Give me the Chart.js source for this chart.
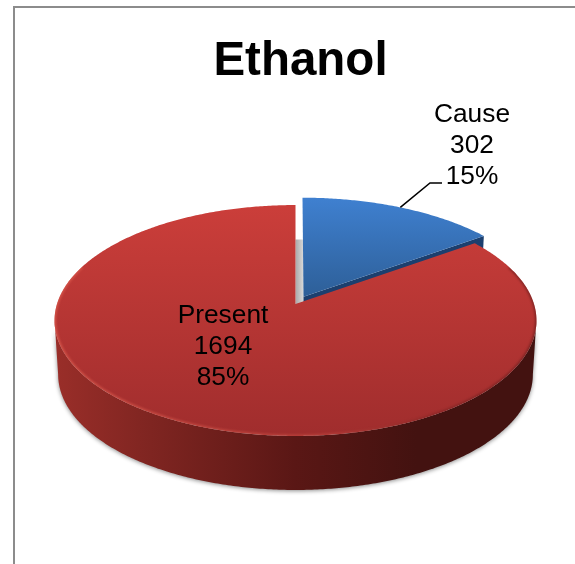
<!DOCTYPE html>
<html>
<head>
<meta charset="utf-8">
<style>
    html, body { margin: 0; padding: 0; background: #fff; }
    #frame { position: absolute; left: 13px; top: 6px; right: 0; bottom: 0; border-top: 2px solid #8c8c8c; border-left: 2px solid #8c8c8c; }
    #chart { position: absolute; left: 0; top: 0; }
</style>
</head>
<body>
<div id="frame"></div>
<canvas id="chart" width="575" height="564"></canvas>
<script src="https://cdn.jsdelivr.net/npm/chart.js@4"></script>
<script>
// Data
const categories = ["Cause", "Present"];
const counts = [302, 1694];
const percents = ["15%", "85%"];

// Look of the 3D pie
const CX = 295.5, CY = 304;     // where the untilted centre lands
const RX = 238.5, RY = 113.1;   // projected radius
const PERSP = 1 / 7;            // front of the disc is nearer
const DEPTH = 54;
const BOTTOM_SCALE = 0.985;
const EXPLODE = 0.074;
const EXPLODED_RADIUS = 1.02;
const LABEL_FONT = '26.3px "Liberation Sans"';
const LABEL_LINE = 31;
const labelCentres = [[472, 114.5], [223, 315.5]];

// unit disc -> screen
function project(u, v) {
    const w = 1 - PERSP * v;
    return [CX + RX * u / w, CY + RY * v / w];
}

function rimPoints(start, end, du, dv, r) {
    const pts = [];
    const steps = Math.ceil(Math.abs(end - start) / 0.01);
    for (let i = 0; i <= steps; i++) {
        const a = start + (end - start) * i / steps;
        pts.push(project(r * Math.cos(a) + du, r * Math.sin(a) + dv));
    }
    return pts;
}

function lower(p) {
    return [CX + (p[0] - CX) * BOTTOM_SCALE, p[1] + DEPTH];
}

function tracePoly(ctx, pts) {
    ctx.beginPath();
    pts.forEach((p, i) => (i ? ctx.lineTo(p[0], p[1]) : ctx.moveTo(p[0], p[1])));
}

function fillPoly(ctx, pts, style) {
    tracePoly(ctx, pts);
    ctx.closePath();
    ctx.fillStyle = style;
    ctx.fill();
}

function vGradient(ctx, y0, y1, c0, c1) {
    const g = ctx.createLinearGradient(0, y0, 0, y1);
    g.addColorStop(0, c0);
    g.addColorStop(1, c1);
    return g;
}

const pie3d = {
    id: "pie3d",
    beforeDatasetsDraw(chart) {
        const ctx = chart.ctx;
        const arcs = chart.getDatasetMeta(0).data;
        const blue = arcs[0], red = arcs[1];
        const mid = (blue.startAngle + blue.endAngle) / 2;
        const du = Math.cos(mid) * EXPLODE, dv = Math.sin(mid) * EXPLODE;

        ctx.save();

        // grey inner face seen through the gap
        const gapTop = -0.62;
        const gapShape = [project(0, gapTop), project(du, gapTop), project(du, 0), project(0, 0)];
        const gapGrad = ctx.createLinearGradient(gapShape[0][0], 0, gapShape[1][0], 0);
        gapGrad.addColorStop(0, "#a9a9a9");
        gapGrad.addColorStop(1, "#d6d6d6");
        fillPoly(ctx, gapShape, gapGrad);

        // blue slice, cut face then top
        const bApex = project(du, dv);
        const bRim = rimPoints(blue.startAngle, blue.endAngle, du, dv, EXPLODED_RADIUS);
        const bCorner = bRim[bRim.length - 1];
        fillPoly(ctx, [bApex, bCorner, lower(bCorner), lower(bApex)], "#1c3f6e");
        fillPoly(ctx, [bApex].concat(bRim), vGradient(ctx, 198, 300, "#3f80d0", "#2d5e96"));

        // red slice, only the front of the wall shows
        const rApex = project(0, 0);
        const rRim = rimPoints(red.startAngle, red.endAngle, 0, 0, 1);
        const side = Math.asin(PERSP);
        const front = rimPoints(side, Math.PI - side, 0, 0, 1);
        const wall = front.concat(front.slice().reverse().map(lower));
        const wallGrad = ctx.createLinearGradient(54, 0, 537, 0);
        wallGrad.addColorStop(0, "#9a2e29");
        wallGrad.addColorStop(0.2, "#7f2521");
        wallGrad.addColorStop(0.5, "#5a1715");
        wallGrad.addColorStop(0.75, "#431210");
        wallGrad.addColorStop(1, "#431210");
        ctx.save();
        ctx.shadowColor = "rgba(0,0,0,0.45)";
        ctx.shadowBlur = 4;
        ctx.shadowOffsetY = 1;
        fillPoly(ctx, wall, wallGrad);
        ctx.restore();

        // red top
        const top = [rApex].concat(rRim);
        fillPoly(ctx, top, vGradient(ctx, 205, 436, "#cb3e3a", "#a02d2d"));

        // soft bevel along the rim, kept inside the top
        const rimGrad = ctx.createLinearGradient(54, 0, 537, 0);
        rimGrad.addColorStop(0, "rgba(226,96,82,0.7)");
        rimGrad.addColorStop(0.55, "rgba(205,80,70,0.5)");
        rimGrad.addColorStop(0.8, "rgba(110,30,30,0.5)");
        rimGrad.addColorStop(1, "rgba(90,25,25,0.6)");
        ctx.save();
        tracePoly(ctx, top);
        ctx.closePath();
        ctx.clip();
        ctx.filter = "blur(1px)";
        tracePoly(ctx, rimPoints(-0.35, Math.PI + 0.35, 0, 0, 1));
        ctx.strokeStyle = rimGrad;
        ctx.lineWidth = 3;
        ctx.stroke();
        ctx.restore();

        // leader line for the small slice
        const start = project(EXPLODED_RADIUS * Math.cos(mid) + du, EXPLODED_RADIUS * Math.sin(mid) + dv);
        ctx.beginPath();
        ctx.moveTo(start[0], start[1]);
        ctx.lineTo(430, 183);
        ctx.lineTo(442, 183);
        ctx.strokeStyle = "#000";
        ctx.lineWidth = 1.5;
        ctx.stroke();

        // labels
        ctx.fillStyle = "#000";
        ctx.font = LABEL_FONT;
        ctx.textAlign = "center";
        ctx.textBaseline = "middle";
        categories.forEach((name, i) => {
            const lines = [name, String(counts[i]), percents[i]];
            lines.forEach((t, j) => ctx.fillText(t, labelCentres[i][0], labelCentres[i][1] + j * LABEL_LINE));
        });

        ctx.restore();
        return false;
    },
};

new Chart(document.getElementById("chart"), {
    type: "pie",
    data: {
        labels: categories,
        datasets: [{ data: counts, backgroundColor: ["#3f80d0", "#cb3e3a"], borderWidth: 0 }],
    },
    options: {
        responsive: false,
        animation: false,
        rotation: 0,
        layout: { padding: { left: 26 } },
        plugins: {
            legend: { display: false },
            tooltip: { enabled: false },
            title: {
                display: true,
                text: "Ethanol",
                color: "#000",
                font: { family: '"Liberation Sans"', size: 47.5, weight: "bold" },
                padding: { top: 33, bottom: 10 },
            },
        },
    },
    plugins: [pie3d],
});
</script>
</body>
</html>
